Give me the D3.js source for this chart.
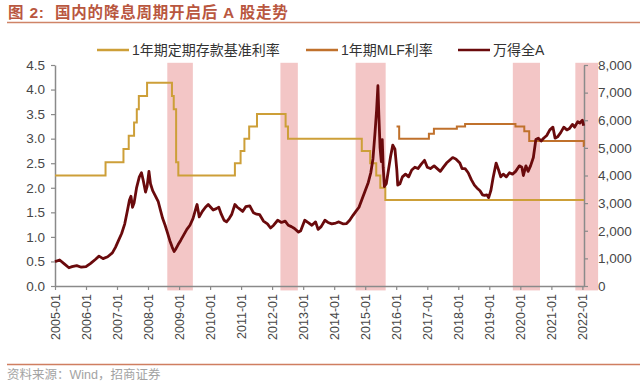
<!DOCTYPE html>
<html lang="zh">
<head>
  <meta charset="UTF-8">
  <title>国内的降息周期开启后 A 股走势</title>
  <style>
    body { margin: 0; background: #fff; }
    text { font-family: "Liberation Sans", Arial, "Noto Sans CJK SC", sans-serif; }
    .cjk { font-family: "Liberation Sans", "Noto Sans CJK SC", sans-serif; }
  </style>
</head>
<body>
  <div id="chart"></div>

  <script src="https://d3js.org/d3.v7.min.js"></script>
  <script>
    // 1年期定期存款基准利率 (%), step changes
    var depositRate = [
      ["2005-01-01", 2.25], ["2006-08-19", 2.52], ["2007-03-18", 2.79], ["2007-05-19", 3.06],
      ["2007-07-21", 3.33], ["2007-08-22", 3.60], ["2007-09-15", 3.87], ["2007-12-21", 4.14],
      ["2008-10-09", 3.87], ["2008-10-30", 3.60], ["2008-11-27", 2.52], ["2008-12-23", 2.25],
      ["2010-10-20", 2.50], ["2010-12-26", 2.75], ["2011-02-09", 3.00], ["2011-04-06", 3.25],
      ["2011-07-07", 3.50], ["2012-06-08", 3.25], ["2012-07-06", 3.00], ["2014-11-22", 2.75],
      ["2015-03-01", 2.50], ["2015-05-11", 2.25], ["2015-06-28", 2.00], ["2015-08-26", 1.75],
      ["2022-01-20", 1.75]
    ];

    // 1年期MLF利率 (%)
    var mlfRate = [
      ["2016-01-05", 3.25], ["2016-02-05", 3.00], ["2017-01-20", 3.10], ["2017-03-20", 3.20],
      ["2017-12-15", 3.25], ["2018-03-22", 3.30], ["2019-11-05", 3.25], ["2020-02-17", 3.15],
      ["2020-04-15", 2.95], ["2022-01-17", 2.85], ["2022-01-20", 2.85]
    ];

    // 万得全A (decimal year, index level)
    var allAYears = [
      2005.00, 2005.15, 2005.30, 2005.45, 2005.55, 2005.70, 2005.85, 2006.00, 2006.15, 2006.30,
      2006.42, 2006.55, 2006.70, 2006.85, 2006.95, 2007.05, 2007.15, 2007.25, 2007.33, 2007.40,
      2007.45, 2007.50, 2007.55, 2007.63, 2007.72, 2007.79, 2007.85, 2007.92, 2007.97, 2008.03,
      2008.08, 2008.15, 2008.22, 2008.33, 2008.40, 2008.47, 2008.55, 2008.62, 2008.70, 2008.78,
      2008.84, 2008.90, 2008.97, 2009.05, 2009.15, 2009.25, 2009.35, 2009.45, 2009.55, 2009.58,
      2009.65, 2009.75, 2009.85, 2009.94, 2010.02, 2010.10, 2010.20, 2010.28, 2010.36, 2010.45,
      2010.53, 2010.62, 2010.70, 2010.80, 2010.88, 2010.96, 2011.05, 2011.15, 2011.28, 2011.40,
      2011.50, 2011.60, 2011.72, 2011.85, 2011.95, 2012.05, 2012.18, 2012.30, 2012.42, 2012.52,
      2012.62, 2012.72, 2012.85, 2012.92, 2013.05, 2013.15, 2013.28, 2013.40, 2013.48, 2013.58,
      2013.70, 2013.80, 2013.92, 2014.05, 2014.15, 2014.28, 2014.40, 2014.50, 2014.60, 2014.70,
      2014.80, 2014.90, 2015.00, 2015.10, 2015.18, 2015.25, 2015.32, 2015.37, 2015.41, 2015.44,
      2015.48, 2015.52, 2015.55, 2015.58, 2015.62, 2015.68, 2015.75, 2015.82, 2015.89, 2015.96,
      2016.02, 2016.05, 2016.12, 2016.20, 2016.30, 2016.40, 2016.50, 2016.60, 2016.70, 2016.80,
      2016.91, 2017.00, 2017.10, 2017.22, 2017.32, 2017.42, 2017.52, 2017.62, 2017.72, 2017.82,
      2017.92, 2018.05, 2018.12, 2018.22, 2018.32, 2018.42, 2018.52, 2018.60, 2018.70, 2018.78,
      2018.85, 2018.92, 2018.98, 2019.05, 2019.12, 2019.22, 2019.30, 2019.37, 2019.45, 2019.55,
      2019.65, 2019.75, 2019.85, 2019.97, 2020.05, 2020.10, 2020.18, 2020.25, 2020.33, 2020.42,
      2020.50, 2020.58, 2020.67, 2020.75, 2020.85, 2020.95, 2021.05, 2021.12, 2021.20, 2021.30,
      2021.40, 2021.50, 2021.58, 2021.68, 2021.75, 2021.85, 2021.92, 2022.00, 2022.04
    ];
    var allAValues = [
      880, 940, 800, 660, 700, 740, 680, 700, 820, 960,
      1080, 990, 1060, 1200, 1400, 1650, 1900, 2250, 2700, 3100,
      3250, 2850, 3000, 3550, 3950, 4100, 3800, 3400, 3600, 4150,
      3700, 3450, 3300, 3050, 2750, 2450, 2200, 1950, 1650, 1400,
      1250, 1350, 1500, 1650, 1850, 2050, 2200, 2450, 2850, 2950,
      2500, 2700, 2850, 2950, 2850, 2750, 2800, 2850, 2600, 2380,
      2320, 2450, 2600, 2950, 2850, 2780, 2700, 2870, 2900, 2650,
      2600, 2580, 2350, 2250, 2100, 2200, 2380, 2300, 2350, 2200,
      2150, 2080, 1950, 2000, 2380, 2300, 2200, 2320, 2050, 2150,
      2380, 2300, 2250, 2280, 2320, 2250, 2260, 2380, 2550, 2700,
      2850, 3150, 3450, 3750, 4100, 4600, 5600, 6400, 7250, 6200,
      5000, 4500, 5300, 4300, 3600, 3700, 4200, 4700, 5100, 4950,
      4200, 3650, 3700, 3950, 4050, 3950, 4200, 4300, 4250, 4400,
      4550, 4300, 4250, 4350, 4250, 4150, 4300, 4450, 4550, 4650,
      4600, 4450, 4250, 4250, 4100, 3850, 3650, 3550, 3450, 3300,
      3280, 3300, 3200, 3450, 3900, 4450, 4200, 3950, 4050, 3950,
      4100, 4050, 4150, 4350, 4300, 4000, 4350, 4150, 4350, 4650,
      5300, 5350, 5250, 5350, 5450, 5650, 5750, 5350, 5400, 5550,
      5750, 5650, 5700, 5850, 5750, 5950, 5900, 6000, 5800
    ];

    // shaded rate-cut periods (start, end) on the time axis
    var cutStarts = ["2008-08-15", "2012-04-08", "2014-09-10", "2019-10-05", "2021-10-10"];
    var cutEnds   = ["2009-06-12", "2012-10-30", "2015-08-30", "2020-08-20", "2022-07-05"];

    var leftTicks = [0, 0.5, 1, 1.5, 2, 2.5, 3, 3.5, 4, 4.5];
    var rightTicks = [0, 1000, 2000, 3000, 4000, 5000, 6000, 7000, 8000];
    var yearTicks = d3.range(2005, 2023);

    var legendLabels = ["1年期定期存款基准利率", "1年期MLF利率", "万得全A"];
    var colors = ["#cd9f38", "#c0712c", "#6a0a0c"];

    var width = 640, height = 389;
    var margin = {top: 65, right: 56, bottom: 103, left: 55};
    var parse = d3.timeParse("%Y-%m-%d");

    function yearToDate(t) {
      var y = Math.floor(t);
      var start = new Date(y, 0, 1), end = new Date(y + 1, 0, 1);
      return new Date(+start + (t - y) * (end - start));
    }

    var svg = d3.select("#chart")
      .append("svg")
      .attr("width", width)
      .attr("height", height);

    var x = d3.scaleTime()
      .domain([new Date(2005, 0, 1), new Date(2022, 0, 20)])
      .range([margin.left, width - margin.right]);
    var yL = d3.scaleLinear()
      .domain([0, 4.5])
      .range([height - margin.bottom, margin.top]);
    var yR = d3.scaleLinear()
      .domain([0, 8000])
      .range([height - margin.bottom, margin.top]);

    // Title + rules
    svg.append("text")
      .attr("class", "cjk")
      .attr("x", 8)
      .attr("y", 18)
      .style("font-size", "15.5px")
      .style("font-weight", "bold")
      .style("letter-spacing", "0.8px")
      .attr("fill", "#b9573f")
      .attr("xml:space", "preserve")
      .text("图 2:  国内的降息周期开启后 A 股走势");
    svg.append("line")
      .attr("x1", 7).attr("x2", width)
      .attr("y1", 22.5).attr("y2", 22.5)
      .attr("stroke", "#cf8467").attr("stroke-width", 1.5);
    svg.append("line")
      .attr("x1", 7).attr("x2", width)
      .attr("y1", 364.5).attr("y2", 364.5)
      .attr("stroke", "#cf7e60").attr("stroke-width", 1.5);
    svg.append("text")
      .attr("class", "cjk")
      .attr("x", 7)
      .attr("y", 379)
      .style("font-size", "12.5px")
      .attr("fill", "#a3a3a3")
      .text("资料来源：Wind，招商证券");

    // shaded bands
    svg.append("g")
      .selectAll("rect")
      .data(cutStarts.map(function(s, i) { return {s: parse(s), e: parse(cutEnds[i])}; }))
      .enter()
      .append("rect")
      .attr("x", function(d) { return x(d.s); })
      .attr("width", function(d) { return x(d.e) - x(d.s); })
      .attr("y", yR(8080))
      .attr("height", yR(-160) - yR(8080))
      .attr("fill", "#f3c6c6");

    // axes
    var axisColor = "#8a8a8a", labelColor = "#474747";

    var gx = svg.append("g")
      .attr("transform", "translate(0," + yL(0) + ")")
      .call(d3.axisBottom(x)
        .tickValues(yearTicks.map(function(y) { return new Date(y, 0, 1); }))
        .tickFormat(d3.timeFormat("%Y-%m"))
        .tickSize(4)
        .tickSizeOuter(0));
    gx.selectAll("text")
      .attr("transform", "rotate(-90)")
      .attr("text-anchor", "end")
      .attr("x", -8)
      .attr("y", 0)
      .attr("dy", "0.35em")
      .style("font-size", "12.5px");

    var gl = svg.append("g")
      .attr("transform", "translate(" + margin.left + ",0)")
      .call(d3.axisLeft(yL).tickValues(leftTicks).tickSize(4).tickSizeOuter(0).tickPadding(6));
    gl.selectAll("text").style("font-size", "13.5px");

    var gr = svg.append("g")
      .attr("transform", "translate(" + (width - margin.right) + ",0)")
      .call(d3.axisRight(yR).tickValues(rightTicks).tickSize(4).tickSizeOuter(0).tickPadding(10));
    gr.selectAll("text").style("font-size", "13.5px");

    [gx, gl, gr].forEach(function(g) {
      g.select(".domain").attr("stroke", axisColor).attr("stroke-width", 1.5);
      g.selectAll(".tick line").attr("stroke", axisColor).attr("stroke-width", 1.2);
      g.selectAll(".tick text").attr("fill", labelColor).style("font-family", "'Liberation Sans', Arial, sans-serif");
    });

    // lines
    var stepLine = d3.line()
      .curve(d3.curveStepAfter)
      .x(function(d) { return x(parse(d[0])); })
      .y(function(d) { return yL(d[1]); });

    svg.append("path")
      .datum(depositRate)
      .attr("d", stepLine)
      .attr("fill", "none")
      .attr("stroke", colors[0])
      .attr("stroke-width", 2);

    svg.append("path")
      .datum(mlfRate)
      .attr("d", stepLine)
      .attr("fill", "none")
      .attr("stroke", colors[1])
      .attr("stroke-width", 2);

    var indexLine = d3.line()
      .x(function(d, i) { return x(yearToDate(d)); })
      .y(function(d, i) { return yR(allAValues[i]); });

    svg.append("path")
      .datum(allAYears)
      .attr("d", indexLine)
      .attr("fill", "none")
      .attr("stroke", colors[2])
      .attr("stroke-width", 2.8)
      .attr("stroke-linejoin", "round");

    // legend
    var legendX = [97, 306, 458];
    var legend = svg.append("g")
      .selectAll("g")
      .data(legendLabels)
      .enter()
      .append("g")
      .attr("transform", function(d, i) { return "translate(" + legendX[i] + ",50)"; });
    legend.append("line")
      .attr("x1", 0).attr("x2", 32)
      .attr("stroke", function(d, i) { return colors[i]; })
      .attr("stroke-width", 2.5);
    legend.append("text")
      .attr("class", "cjk")
      .attr("x", 35)
      .attr("dy", "0.36em")
      .style("font-size", "14px")
      .attr("fill", "#333")
      .text(function(d) { return d; });
  </script>
</body>
</html>
